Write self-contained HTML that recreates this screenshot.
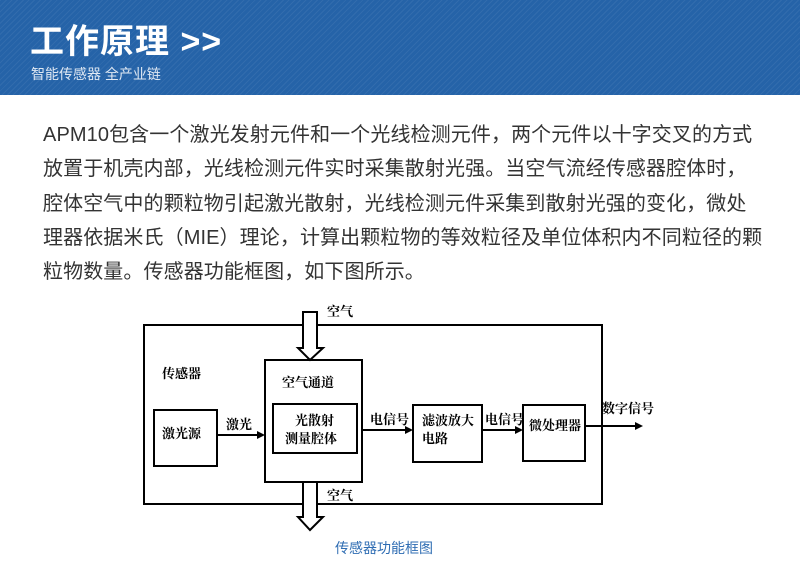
<!DOCTYPE html>
<html><head><meta charset="utf-8"><style>
body{margin:0;width:800px;height:562px;background:#fff;position:relative;overflow:hidden;font-family:"Liberation Sans","Noto Sans CJK SC",sans-serif}
.hdr{position:absolute;left:0;top:0;width:800px;height:95px;background:#2563a8;background-image:repeating-linear-gradient(135deg,rgba(255,255,255,0.06) 0 1px,transparent 1px 4px)}
.t{position:absolute;left:30px;top:14px;color:#fff;font-size:34px;font-weight:bold;letter-spacing:1px;white-space:nowrap}
.s{position:absolute;left:31px;top:64px;color:#dfe8f3;font-size:14px;white-space:nowrap}
.l{position:absolute;left:43px;font-size:20px;color:#333;letter-spacing:0.1px;white-space:nowrap;line-height:24px}
.cap{position:absolute;left:335px;top:538px;color:#2f6db3;font-size:14px}
svg text{font-family:"Liberation Serif","Noto Serif CJK SC",serif;font-weight:bold;font-size:13px;fill:#000}
</style></head><body>
<div class="hdr"><div class="t">工作原理 &gt;&gt;</div><div class="s">智能传感器 全产业链</div></div>
<div class="l" style="top:123px">APM10包含一个激光发射元件和一个光线检测元件，两个元件以十字交叉的方式</div>
<div class="l" style="top:157px">放置于机壳内部，光线检测元件实时采集散射光强。当空气流经传感器腔体时，</div>
<div class="l" style="top:192px">腔体空气中的颗粒物引起激光散射，光线检测元件采集到散射光强的变化，微处</div>
<div class="l" style="top:226px">理器依据米氏（MIE）理论，计算出颗粒物的等效粒径及单位体积内不同粒径的颗</div>
<div class="l" style="top:260px">粒物数量。传感器功能框图，如下图所示。</div>
<svg width="800" height="562" style="position:absolute;left:0;top:0">
<g fill="none" stroke="#000" stroke-width="2">
<rect x="144" y="325" width="458" height="179"/>
<rect x="265" y="360" width="97" height="122" fill="#fff"/>
<rect x="273" y="404" width="84" height="49"/>
<rect x="154" y="410" width="63" height="56"/>
<rect x="413" y="405" width="69" height="57"/>
<rect x="523" y="405" width="62" height="56"/>
<polygon points="303,312 317,312 317,348 323,348 310,360 298,348 303,348" fill="#fff"/>
<polygon points="303,482 317,482 317,517 323,517 310,530 298,517 303,517" fill="#fff"/>
<line x1="217" y1="435" x2="258" y2="435"/>
<line x1="362" y1="430" x2="406" y2="430"/>
<line x1="482" y1="430" x2="516" y2="430"/>
<line x1="585" y1="426" x2="636" y2="426"/>
</g>
<g fill="#000">
<polygon points="265,435 257,431 257,439"/>
<polygon points="413,430 405,426 405,434"/>
<polygon points="523,430 515,426 515,434"/>
<polygon points="643,426 635,422 635,430"/>
</g>
<text x="327" y="316">空气</text>
<text x="327" y="500">空气</text>
<text x="162" y="378">传感器</text>
<text x="282" y="387">空气通道</text>
<text x="295" y="425">光散射</text>
<text x="285" y="443">测量腔体</text>
<text x="162" y="438">激光源</text>
<text x="226" y="429">激光</text>
<text x="370" y="424">电信号</text>
<text x="422" y="425">滤波放大</text>
<text x="422" y="443">电路</text>
<text x="485" y="424">电信号</text>
<text x="529" y="430">微处理器</text>
<text x="602" y="413">数字信号</text>
</svg>
<div class="cap">传感器功能框图</div>
</body></html>
